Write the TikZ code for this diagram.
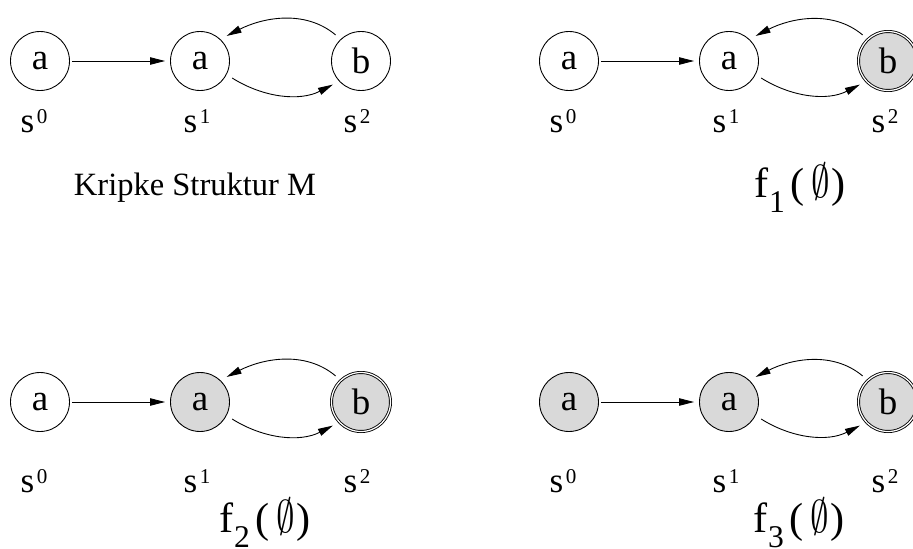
\documentclass[tikz,border=0pt]{standalone}
\usepackage{fontspec}
\setmainfont{Liberation Serif}
\usetikzlibrary{arrows.meta}

\newcommand{\slabel}[1]{s\kern1.5pt\raisebox{5pt}{\fontsize{12}{12}\selectfont #1}}
\newcommand{\fstep}[1]{f\kern0.5pt\raisebox{-9pt}{\fontsize{18}{18}\selectfont #1}\kern3pt(\kern4pt\scalebox{0.85}[1.05]{$\emptyset$}\kern1pt)}

\begin{document}
\begin{tikzpicture}[x=0.2mm, y=0.2mm, line width=0.5pt,
    >={Triangle[length=8.5pt,width=4.2pt]},
    state/.style={circle, draw, inner sep=0pt, minimum size=11.8mm,
      font=\fontsize{21}{21}\selectfont},
    marked/.style={state, fill=black!15},
    final/.style={marked, double, double distance=0.7pt},
    trans/.style={->, shorten <=1.3mm, shorten >=1.4mm},
    slbl/.style={anchor=base, inner sep=0pt, font=\fontsize{20}{20}\selectfont},
    capt/.style={anchor=base, inner sep=0pt, font=\fontsize{24}{24}\selectfont}]
  \useasboundingbox (0,0) rectangle (913,-549);

  % Kripke Struktur M
  \node[state] (a0) at (40,-61) {a};
  \node[state] (a1) at (200,-61) {a};
  \node[state] (a2) at (361,-61) {b};
  \draw[->, shorten <=0.5mm, shorten >=1mm] (a0) -- (a1);
  \draw[trans] (a2.133) to[out=140,in=27] (a1.47);
  \draw[trans] (a1.-27) to[out=-32,in=-153] (a2.-137);
  \node[slbl] (la0) at (34,-132) {\slabel{0}};
  \node[slbl] (la1) at (197,-132) {\slabel{1}};
  \node[slbl] (la2) at (357,-132) {\slabel{2}};
  \node[capt, font=\fontsize{18.5}{18.5}\selectfont] (ca) at (195,-195) {Kripke Struktur M};

  % f_1
  \node[state] (b0) at (569,-61) {a};
  \node[state] (b1) at (729,-61) {a};
  \node[final] (b2) at (888,-61) {b};
  \draw[->, shorten <=0.5mm, shorten >=1mm] (b0) -- (b1);
  \draw[trans] (b2.133) to[out=140,in=27] (b1.47);
  \draw[trans] (b1.-27) to[out=-32,in=-153] (b2.-137);
  \node[slbl] (lb0) at (563,-132) {\slabel{0}};
  \node[slbl] (lb1) at (726,-132) {\slabel{1}};
  \node[slbl] (lb2) at (885,-132) {\slabel{2}};
  \node[capt] (cb) at (800,-197) {\fstep{1}};

  % f_2
  \node[state] (c0) at (40,-402) {a};
  \node[marked] (c1) at (200,-402) {a};
  \node[final] (c2) at (361,-402) {b};
  \draw[->, shorten <=0.5mm, shorten >=1mm] (c0) -- (c1);
  \draw[trans] (c2.133) to[out=140,in=27] (c1.47);
  \draw[trans] (c1.-27) to[out=-32,in=-153] (c2.-137);
  \node[slbl] (lc0) at (34,-492) {\slabel{0}};
  \node[slbl] (lc1) at (197,-492) {\slabel{1}};
  \node[slbl] (lc2) at (357,-492) {\slabel{2}};
  \node[capt] (cc) at (265,-532) {\fstep{2}};

  % f_3
  \node[marked] (d0) at (569,-402) {a};
  \node[marked] (d1) at (729,-402) {a};
  \node[final] (d2) at (888,-402) {b};
  \draw[->, shorten <=0.5mm, shorten >=1mm] (d0) -- (d1);
  \draw[trans] (d2.133) to[out=140,in=27] (d1.47);
  \draw[trans] (d1.-27) to[out=-32,in=-153] (d2.-137);
  \node[slbl] (ld0) at (563,-492) {\slabel{0}};
  \node[slbl] (ld1) at (726,-492) {\slabel{1}};
  \node[slbl] (ld2) at (885,-492) {\slabel{2}};
  \node[capt] (cd) at (799,-532) {\fstep{3}};
\end{tikzpicture}
\end{document}
